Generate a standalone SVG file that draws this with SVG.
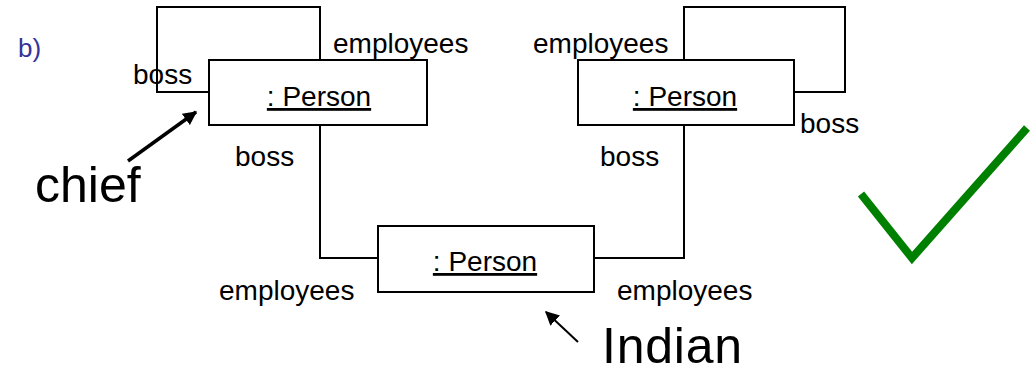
<svg xmlns="http://www.w3.org/2000/svg" width="1036" height="374" viewBox="0 0 1036 374">
  <style>
    .obj rect { fill: #ffffff; stroke: #000000; stroke-width: 2; }
    .obj text { font-family: "Liberation Sans", Arial, sans-serif; font-size: 28px; text-anchor: middle; text-decoration: underline; fill: #000000; }
    .link { fill: none; stroke: #000000; stroke-width: 2; }
    .role { font-family: "Liberation Sans", Arial, sans-serif; font-size: 28px; fill: #000000; }
    .note { font-family: "Liberation Sans", Arial, sans-serif; font-size: 50px; fill: #000000; }
    .pointer { stroke: #000000; fill: none; }
  </style>
  <defs>
    <marker id="arrowhead" viewBox="0 0 10 10" refX="9" refY="5" markerWidth="4" markerHeight="4" orient="auto" markerUnits="strokeWidth">
      <path d="M0,0 L10,5 L0,10 z" fill="#000000"/>
    </marker>
    <marker id="arrowhead-thin" viewBox="0 0 10 10" refX="9" refY="5" markerWidth="7" markerHeight="7" orient="auto" markerUnits="strokeWidth">
      <path d="M0,0 L10,5 L0,10 z" fill="#000000"/>
    </marker>
  </defs>

  <!-- panel label -->
  <text x="18" y="57" font-family="Liberation Sans, Arial, sans-serif" font-size="26" fill="#333399">b)</text>

  <!-- links between objects -->
  <g id="connectors">
    <!-- self link of the chief -->
    <path class="link" d="M209,92 H157 V7 H320 V60"/>
    <!-- self link of the right person -->
    <path class="link" d="M684,60 V7 H845 V92 H794"/>
    <!-- chief to Indian -->
    <path class="link" d="M320,125 V258 H378"/>
    <!-- right person to Indian -->
    <path class="link" d="M684,125 V258 H594"/>
  </g>

  <!-- objects -->
  <g id="chief-person" class="obj">
    <rect x="209" y="60" width="218" height="65"/>
    <text x="319" y="106">: Person</text>
  </g>
  <g id="right-person" class="obj">
    <rect x="578" y="60" width="216" height="65"/>
    <text x="685" y="106">: Person</text>
  </g>
  <g id="indian-person" class="obj">
    <rect x="378" y="226" width="216" height="66"/>
    <text x="485" y="271">: Person</text>
  </g>

  <!-- role names -->
  <g id="roles">
    <text class="role" x="133" y="84">boss</text>
    <text class="role" x="333" y="53">employees</text>
    <text class="role" x="235" y="166">boss</text>
    <text class="role" x="533" y="53">employees</text>
    <text class="role" x="800" y="133">boss</text>
    <text class="role" x="600" y="166">boss</text>
    <text class="role" x="219" y="300">employees</text>
    <text class="role" x="617" y="300">employees</text>
  </g>

  <!-- annotations -->
  <g id="chief-note">
    <text class="note" x="35" y="202">chief</text>
    <line class="pointer" x1="128" y1="161" x2="196" y2="112" stroke-width="3.5" marker-end="url(#arrowhead)"/>
  </g>
  <g id="indian-note">
    <text class="note" x="602" y="363" textLength="140">Indian</text>
    <line class="pointer" x1="578" y1="342" x2="546" y2="312" stroke-width="2" marker-end="url(#arrowhead-thin)"/>
  </g>

  <!-- check mark -->
  <polyline id="check" points="861,194 912,258 1027,128" fill="none" stroke="#008000" stroke-width="8"/>
</svg>
